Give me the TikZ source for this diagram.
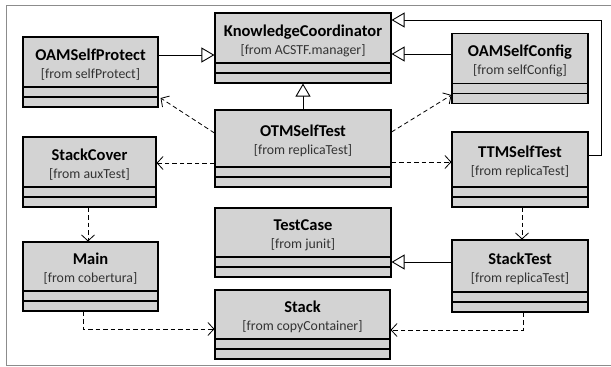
\documentclass[tikz,border=0pt]{standalone}
\usepackage{fontspec}
\setmainfont{Carlito}
\usetikzlibrary{arrows.meta}
\definecolor{boxgray}{RGB}{211,211,211}
\definecolor{framegray}{RGB}{140,140,140}
\newcommand{\clsname}[1]{{\fontsize{16.5}{18}\selectfont\bfseries #1}}

\begin{document}
\begin{tikzpicture}[x=1pt, y=-1pt, font=\fontsize{13.8}{18}\selectfont,
umlclass/.style={rectangle, draw, line width=1.1pt, fill=boxgray, align=center,
      inner sep=0pt, text height=36.5pt, text depth=24pt,
      path picture={
        \draw[line width=1.1pt] ([yshift=10pt]path picture bounding box.south west) -- ([yshift=10pt]path picture bounding box.south east);
        \draw[line width=1.1pt] ([yshift=20pt]path picture bounding box.south west) -- ([yshift=20pt]path picture bounding box.south east);}},
inherit/.style={line width=0.9pt, -{Triangle[open, length=13pt, width=15pt, fill=white]}},
uses/.style={line width=0.8pt, dash pattern=on 4.5pt off 3pt, -{Straight Barb[length=6pt, width=13pt]}},]
 \useasboundingbox (0,0) rectangle (611,367);
 \draw[framegray, line width=1pt] (611,5) -- (6,5) -- (6,365) -- (611,365);

 \node[umlclass, minimum width=176pt, minimum height=70pt] (kc) at (303,48) {\clsname{KnowledgeCoordinator}\\\textcolor{black!80}{[from ACSTF.manager]}};
 \node[umlclass, minimum width=135pt, minimum height=70pt] (oamprotect) at (90.5,72) {\clsname{OAMSelfProtect}\\\textcolor{black!80}{[from selfProtect]}};
 \node[umlclass, minimum width=136pt, minimum height=70pt] (oamconfig) at (520,68.5) {\clsname{OAMSelfConfig}\\\textcolor{black!80}{[from selfConfig]}};
 \node[umlclass, minimum width=176pt, minimum height=77pt] (otm) at (303,148.5) {\clsname{OTMSelfTest}\\\textcolor{black!80}{[from replicaTest]}};
 \node[umlclass, minimum width=133pt, minimum height=70pt] (stackcover) at (89.5,172) {\clsname{StackCover}\\\textcolor{black!80}{[from auxTest]}};
 \node[umlclass, minimum width=136pt, minimum height=75pt] (ttm) at (520,169.5) {\clsname{TTMSelfTest}\\\textcolor{black!80}{[from replicaTest]}};
 \node[umlclass, minimum width=176pt, minimum height=69pt] (testcase) at (303,242.5) {\clsname{TestCase}\\\textcolor{black!80}{[from junit]}};
 \node[umlclass, minimum width=135pt, minimum height=69pt] (main) at (90.5,276.5) {\clsname{Main}\\\textcolor{black!80}{[from cobertura]}};
 \node[umlclass, minimum width=136pt, minimum height=72pt] (stacktest) at (520,276) {\clsname{StackTest}\\\textcolor{black!80}{[from replicaTest]}};
 \node[umlclass, minimum width=175pt, minimum height=69pt] (stack) at (302.5,324.5) {\clsname{Stack}\\\textcolor{black!80}{[from copyContainer]}};

 % generalisations
 \draw[inherit] ([yshift=17pt]oamprotect.east) -- ([yshift=-7pt]kc.west);
 \draw[inherit] ([yshift=14.5pt]oamconfig.west) -- ([yshift=-6pt]kc.west -| kc.east);
 \draw[inherit] ([yshift=14.5pt]ttm.east) -- ++(13,0) |- ([yshift=28pt]kc.east);
 \draw[inherit] (otm.north) -- (kc.south);
 \draw[inherit] ([yshift=14pt]stacktest.west) -- ([yshift=-19.5pt]testcase.east);

 % dependencies
 \draw[uses] ([yshift=15.5pt]otm.west) -- ([xshift=2pt, yshift=-26pt]oamprotect.east);
 \draw[uses] ([yshift=-14.5pt]otm.west) -- ([yshift=9pt]stackcover.east);
 \draw[uses] ([yshift=16.5pt]otm.east) -- ([yshift=-26.5pt]oamconfig.west);
 \draw[uses] ([yshift=-13.5pt]otm.east) -- ([yshift=7.5pt]ttm.west);
 \draw[uses] ([xshift=-1.5pt]stackcover.south) -- ([xshift=-2.5pt]main.north);
 \draw[uses] ([xshift=2pt]ttm.south) -- ([xshift=2pt]stacktest.north);
 \draw[uses] ([xshift=-7.5pt]main.south) |- ([yshift=-4.5pt]stack.west);
 \draw[uses] ([xshift=3pt]stacktest.south) |- ([yshift=-5.5pt]stack.east);
\end{tikzpicture}
\end{document}
